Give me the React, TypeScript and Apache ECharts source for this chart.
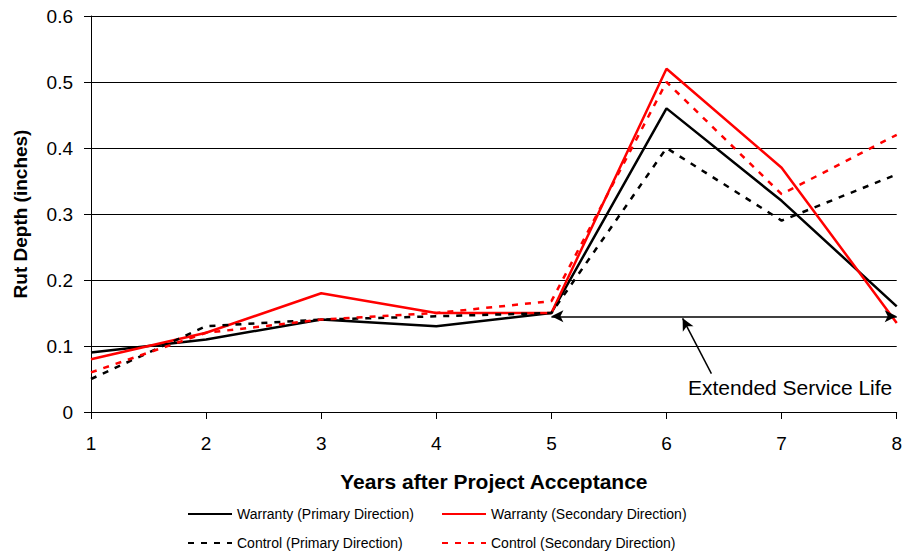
import React, { useEffect, useRef } from "react";
import * as echarts from "echarts";

const years = [1, 2, 3, 4, 5, 6, 7, 8];
const warrantyPrimary = [0.09, 0.11, 0.14, 0.13, 0.15, 0.46, 0.32, 0.16];
const warrantySecondary = [0.08, 0.12, 0.18, 0.15, 0.15, 0.52, 0.37, 0.135];
const controlPrimary = [0.05, 0.13, 0.14, 0.145, 0.15, 0.4, 0.29, 0.36];
const controlSecondary = [0.06, 0.12, 0.14, 0.15, 0.168, 0.5, 0.33, 0.42];
const yTicks = [0, 0.1, 0.2, 0.3, 0.4, 0.5, 0.6];
const extendedLife = { from: 5, to: 8, level: 0.145 };
const pointer = { from: [6.39, 0.058], to: [6.14, 0.142] };

const FONT = "'Liberation Sans', Arial, sans-serif";

export default function App() {
  const ref = useRef<HTMLDivElement>(null);
  useEffect(() => {
    const chart = echarts.init(ref.current!, undefined, { renderer: "svg" });
    const pairs = (arr: number[]) => years.map((x, i) => [x, arr[i]]);
    const mkSeries = (name: string, arr: number[], color: string, dashed: boolean, extra: any = {}) => ({
      name,
      type: "line",
      data: pairs(arr),
      symbol: "none",
      lineStyle: { color, width: 2.5, type: dashed ? [6, 7] : "solid" },
      itemStyle: { color },
      z: dashed ? 3 : 2,
      ...extra,
    });
    const legendCommon = {
      itemWidth: 44,
      itemHeight: 14,
      itemStyle: { opacity: 0 },
      textStyle: { fontFamily: FONT, fontSize: 14, color: "#000" },
      padding: 0,
    };
    chart.setOption({
      animation: false,
      textStyle: { fontFamily: FONT },
      grid: { left: 91, right: 7, top: 16, bottom: 140 },
      xAxis: {
        type: "value",
        min: 1,
        max: 8,
        interval: 1,
        name: "Years after Project Acceptance",
        nameLocation: "middle",
        nameGap: 59,
        nameTextStyle: { fontFamily: FONT, fontSize: 21, fontWeight: "bold", color: "#000" },
        axisLine: { lineStyle: { color: "#000", width: 1 } },
        axisTick: { show: true, length: 7, lineStyle: { color: "#000" } },
        axisLabel: { fontFamily: FONT, fontSize: 19, color: "#000", margin: 22 },
        splitLine: { show: false },
      },
      yAxis: {
        type: "value",
        min: yTicks[0],
        max: yTicks[yTicks.length - 1],
        interval: 0.1,
        name: "Rut Depth (inches)",
        nameLocation: "middle",
        nameGap: 61,
        nameTextStyle: { fontFamily: FONT, fontSize: 19, fontWeight: "bold", color: "#000" },
        axisLine: { show: true, lineStyle: { color: "#000", width: 1 } },
        axisTick: { show: true, length: 7, lineStyle: { color: "#000" } },
        axisLabel: {
          fontFamily: FONT,
          fontSize: 19,
          color: "#000",
          margin: 18,
          formatter: (v: number) => (v === 0 ? "0" : v.toFixed(1)),
        },
        splitLine: { show: true, lineStyle: { color: "#000", width: 1 } },
      },
      legend: [
        { ...legendCommon, left: 187, top: 507, data: ["Warranty (Primary Direction)"] },
        { ...legendCommon, left: 441, top: 507, data: ["Warranty (Secondary Direction)"] },
        { ...legendCommon, left: 187, top: 536, data: ["Control (Primary Direction)"] },
        { ...legendCommon, left: 441, top: 536, data: ["Control (Secondary Direction)"] },
      ],
      series: [
        mkSeries("Warranty (Primary Direction)", warrantyPrimary, "#000000", false, {
          markLine: {
            silent: true,
            animation: false,
            symbol: ["arrow", "arrow"],
            symbolSize: [9, 12],
            label: { show: false },
            lineStyle: { color: "#000", width: 1.5, type: "solid" },
            data: [
              [
                { coord: [extendedLife.from, extendedLife.level], symbol: "arrow" },
                { coord: [extendedLife.to, extendedLife.level], symbol: "arrow" },
              ],
              [
                { coord: pointer.from, symbol: "none" },
                { coord: pointer.to, symbol: "arrow" },
              ],
            ],
          },
        }),
        mkSeries("Warranty (Secondary Direction)", warrantySecondary, "#ff0000", false),
        mkSeries("Control (Primary Direction)", controlPrimary, "#000000", true),
        mkSeries("Control (Secondary Direction)", controlSecondary, "#ff0000", true),
      ],
      graphic: [
        {
          type: "text",
          left: 688,
          top: 377,
          style: { text: "Extended Service Life", fontFamily: FONT, fontSize: 21, fill: "#000" },
        },
      ],
    });
    return () => chart.dispose();
  }, []);
  return <div ref={ref} style={{ width: 905, height: 552, position: "absolute", left: 0, top: 0 }} />;
}
